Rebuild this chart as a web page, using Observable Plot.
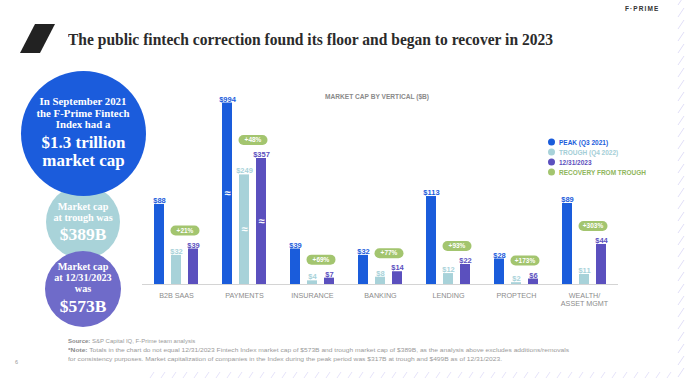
<!DOCTYPE html>
<html>
<head>
<meta charset="utf-8">
<script src="https://cdn.jsdelivr.net/npm/d3@7"></script>
<script src="https://cdn.jsdelivr.net/npm/@observablehq/plot@0.6"></script>
<style>
  html, body { margin: 0; padding: 0; }
  body { width: 686px; height: 379px; position: relative; overflow: hidden; background: #fff; font-family: "Liberation Sans", Arial, sans-serif; }
  .abs { position: absolute; }
  .serif { font-family: "Liberation Serif", "DejaVu Serif", serif; font-weight: bold; color: #fff; }
  .block { position: absolute; left: 0; width: 100%; text-align: center; white-space: nowrap; transform: translateY(-50%); }
  .fit { display: inline-block; white-space: nowrap; transform-origin: left center; }
  .legend-row { position: absolute; left: 0; display: flex; align-items: center; font-size: 6.5px; font-weight: bold; white-space: nowrap; transform: translateY(-50%); }
  .legend-row .dot { width: 7px; height: 7px; border-radius: 50%; margin-right: 4px; }
  .foot { position: absolute; left: 68px; font-size: 6px; line-height: 1.1; color: #9a9a9a; transform: translateY(-50%); }
  .foot b { color: #8a8a8a; }
</style>
</head>
<body>
<svg class="abs" style="left:0;top:0" width="686" height="379" id="deco"></svg>
<div class="abs" style="left:0;top:0;width:686px;height:379px;">
  <div class="abs" style="left:20px;top:24px;width:35px;height:29px;background:#222;clip-path:polygon(15px 0,35px 0,20px 29px,0 29px);"></div>
  <div class="abs" style="left:68px;top:40px;transform:translateY(-50%);"><span id="title" class="fit" style="font-family:'Liberation Serif',serif;font-weight:bold;font-size:17px;color:#2b2b2b;"></span></div>
  <div class="abs" style="left:625px;top:8px;transform:translateY(-50%);font-size:6.5px;font-weight:bold;letter-spacing:1.1px;color:#333;">F·PRIME</div>
</div>
<div id="circles"></div>
<div id="chart" class="abs" style="left:0;top:85px;"></div>
<div id="charttitle" class="abs" style="left:325px;top:96px;transform:translateY(-50%);font-size:6.6px;font-weight:bold;color:#8a8a8a;white-space:nowrap;"></div>
<div id="legend" class="abs" style="left:548px;top:0;"></div>
<div id="footer"></div>
<div class="abs" style="left:15px;top:362px;transform:translateY(-50%);font-size:5.5px;color:#999;">6</div>
<script>
// ---------- data ----------
const titleText = "The public fintech correction found its floor and began to recover in 2023";
const chartTitle = "MARKET CAP BY VERTICAL ($B)";
const verticals = ["B2B SAAS", "PAYMENTS", "INSURANCE", "BANKING", "LENDING", "PROPTECH", "WEALTH/\nASSET MGMT"];
const series = ["PEAK (Q3 2021)", "TROUGH (Q4 2022)", "12/31/2023"];
const peak = [88, 994, 39, 32, 113, 28, 89];
const trough = [32, 249, 4, 8, 12, 2, 11];
const recent = [39, 357, 7, 14, 22, 6, 44];
const recovery = ["+21%", "+48%", "+69%", "+77%", "+93%", "+173%", "+303%"];
const recoveryLabel = "RECOVERY FROM TROUGH";
const brokenVerticals = ["PAYMENTS"];
const seriesColors = ["#1a5cdb", "#a8d2d9", "#5b50be"];
const recoveryColor = "#a3c56f";
const recoveryText = "#8fb65b";
const circleTexts = [
  {small: ["In September 2021", "the F-Prime Fintech", "Index had a"], big: ["$1.3 trillion", "market cap"]},
  {small: ["Market cap", "at trough was"], big: ["$389B"]},
  {small: ["Market cap", "at 12/31/2023", "was"], big: ["$573B"]}
];
const sourceText = "S&P Capital IQ, F-Prime team analysis";
const noteText1 = "Totals in the chart do not equal 12/31/2023 Fintech Index market cap of $573B and trough market cap of $389B, as the analysis above excludes additions/removals";
const noteText2 = "for consistency purposes. Market capitalization of companies in the Index during the peak period was $317B at trough and $499B as of 12/31/2023.";

// ---------- helpers ----------
function fit(el, w) {
  const r = el.getBoundingClientRect().width;
  if (r > 0) el.style.transform = `scaleX(${w / r})`;
}

// decorations (slashes)
(function(){
  const svg = d3.select("#deco");
  const col = d3.range(-4, 379, 12);
  svg.selectAll("line.c").data(col).join("line")
    .attr("x1", 678).attr("y1", d => d + 9).attr("x2", 684).attr("y2", d => d)
    .attr("stroke", "#dcdaf6").attr("stroke-width", 0.9);
  const row = d3.range(150, 672, 11);
  svg.selectAll("line.r").data(row).join("line")
    .attr("x1", d => d).attr("y1", 378).attr("x2", d => d + 4).attr("y2", 372)
    .attr("stroke", "#e2e0f8").attr("stroke-width", 0.9);
})();

// title
const t = document.getElementById("title");
t.textContent = titleText;
fit(t, 485);

// circles
(function(){
  const specs = [
    {cx: 83, cy: 222, r: 37, color: "#a9d3d9", z: 1, smallC: 212, smallLH: 11, bigC: 233.5, bigLH: 17, small: 10.2, big: 17.5, bigScale: 1},
    {cx: 83, cy: 133, r: 62.5, color: "#1b5cdc", z: 2, smallC: 113, smallLH: 11.5, bigC: 151.5, bigLH: 18.5, small: 10.8, big: 16, bigScale: 1.06},
    {cx: 83, cy: 289, r: 38, color: "#6f6bc9", z: 3, smallC: 278.25, smallLH: 10.75, bigC: 305.5, bigLH: 17, small: 10.2, big: 17.5, bigScale: 1}
  ];
  const idx = [1, 0, 2];
  const host = document.getElementById("circles");
  specs.forEach((s, k) => {
    const txt = circleTexts[idx[k]];
    const d = document.createElement("div");
    d.className = "abs serif";
    d.style.cssText = `left:${s.cx - s.r}px;top:${s.cy - s.r}px;width:${2*s.r}px;height:${2*s.r}px;border-radius:50%;background:${s.color};z-index:${s.z};`;
    const a = document.createElement("div");
    a.className = "block";
    a.style.top = (s.smallC - (s.cy - s.r)) + "px";
    a.style.fontSize = s.small + "px";
    a.style.lineHeight = s.smallLH + "px";
    a.innerHTML = txt.small.join("<br>");
    d.appendChild(a);
    const b = document.createElement("div");
    b.className = "block";
    b.style.top = (s.bigC - (s.cy - s.r)) + "px";
    b.style.fontSize = s.big + "px";
    b.style.lineHeight = s.bigLH + "px";
    b.style.transform = `translateY(-50%) scaleX(${s.bigScale})`;
    b.innerHTML = txt.big.join("<br>");
    d.appendChild(b);
    host.appendChild(d);
  });
})();

// ---------- chart ----------
const rows = [];
verticals.forEach((v, i) => {
  [peak, trough, recent].forEach((arr, s) => rows.push({vertical: v, series: series[s], value: arr[i]}));
});
const recRows = verticals.map((v, i) => ({vertical: v, value: recent[i], label: recovery[i]}));

const yDomain = [0, 89, 120, 357, 1000];
const yRange = [199, 118, 109, 73, 17];
const yLin = d3.scaleLinear().domain(yDomain).range(yRange);
const breakRows = rows.filter(d => brokenVerticals.includes(d.vertical))
  .map(d => ({...d, mid: yLin.invert((yLin(0) + yLin(d.value)) / 2)}));

const pill = {
  draw(ctx) {
    const w = 29, r = 5, x0 = -w / 2 + r, x1 = w / 2 - r;
    ctx.moveTo(x0, -r);
    ctx.lineTo(x1, -r);
    ctx.arc(x1, 0, r, -Math.PI / 2, Math.PI / 2);
    ctx.lineTo(x0, r);
    ctx.arc(x0, 0, r, Math.PI / 2, 3 * Math.PI / 2);
    ctx.closePath();
  }
};

const chart = Plot.plot({
  width: 686,
  height: 230,
  marginLeft: 142,
  marginRight: 68,
  marginTop: 0,
  marginBottom: 31,
  style: {background: "transparent", fontFamily: "Liberation Sans, Arial, sans-serif"},
  fx: {domain: verticals, padding: 0, axis: null},
  x: {domain: series, paddingInner: 0.41, paddingOuter: 0.7, axis: null},
  y: {type: "linear", domain: yDomain, range: yRange, axis: null},
  color: {domain: series, range: seriesColors},
  marks: [
    Plot.ruleY([0], {stroke: "#d4d4d4", strokeWidth: 1}),
    Plot.barY(rows, {fx: "vertical", x: "series", y: "value", fill: "series"}),
    Plot.text(breakRows, {fx: "vertical", x: "series", y: "mid", text: () => "≈", fill: "white", fontSize: 11, fontWeight: "bold"}),
    Plot.text(rows, {fx: "vertical", x: "series", y: "value", text: d => "$" + d.value, fill: "series", lineAnchor: "bottom", dy: -1.5, fontSize: 7.5, fontWeight: "bold"}),
    Plot.dot(recRows, {fx: "vertical", x: () => series[1], y: "value", dx: 8.5, dy: -18.5, symbol: pill, r: 5, fill: recoveryColor, stroke: null}),
    Plot.text(recRows, {fx: "vertical", x: () => series[1], y: "value", dx: 8.5, dy: -18.5, text: "label", fill: "white", fontSize: 6.5, fontWeight: "bold"}),
    Plot.text(verticals, {fx: d => d, text: d => d, frameAnchor: "bottom", lineAnchor: "top", dy: 8.5, fill: "#8c8c8c", fontSize: 7.2, lineHeight: 1.05})
  ]
});
document.getElementById("chart").appendChild(chart);
document.getElementById("charttitle").textContent = chartTitle;

// legend
(function(){
  const host = document.getElementById("legend");
  const items = series.map((s, i) => ({label: s, color: seriesColors[i], text: i === 1 ? "#a3ced6" : seriesColors[i]}))
    .concat([{label: recoveryLabel, color: recoveryColor, text: recoveryText}]);
  items.forEach((it, i) => {
    const r = document.createElement("div");
    r.className = "legend-row";
    r.style.top = (142 + i * 10) + "px";
    r.innerHTML = `<span class="dot" style="background:${it.color}"></span><span style="color:${it.text}">${it.label}</span>`;
    host.appendChild(r);
  });
})();

// footer
(function(){
  const host = document.getElementById("footer");
  const lines = [
    {html: `<b>Source:</b> ${sourceText}`, top: 341, w: null},
    {html: `<b>*Note:</b> ${noteText1}`, top: 350, w: 501},
    {html: noteText2, top: 359, w: 434}
  ];
  lines.forEach(l => {
    const d = document.createElement("div");
    d.className = "foot";
    d.style.top = l.top + "px";
    const s = document.createElement("span");
    s.className = "fit";
    s.innerHTML = l.html;
    d.appendChild(s);
    host.appendChild(d);
    if (l.w) fit(s, l.w);
  });
})();
</script>
</body>
</html>
